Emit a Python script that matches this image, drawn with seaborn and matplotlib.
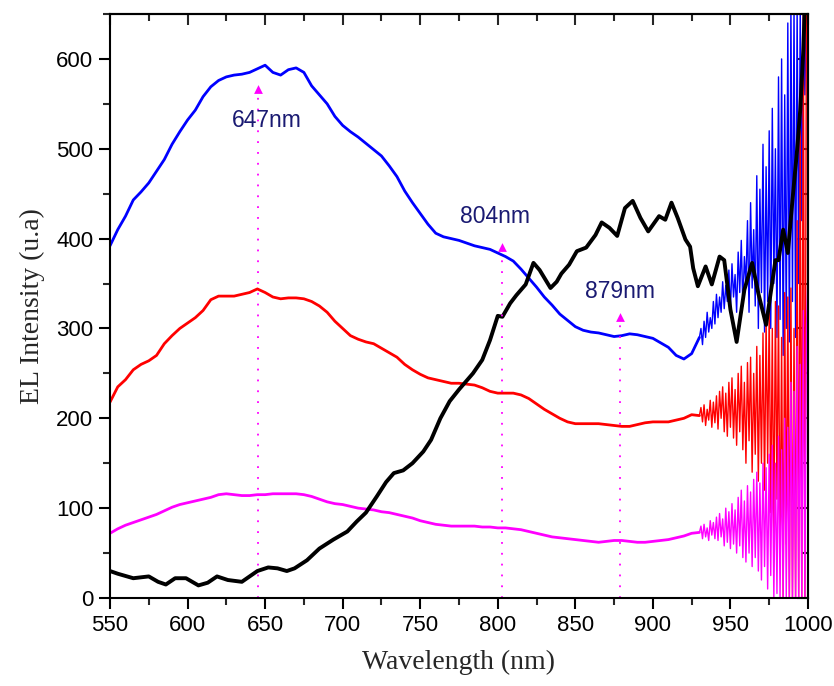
import numpy as np
import pandas as pd
import matplotlib
matplotlib.use("Agg")
import matplotlib.pyplot as plt
from matplotlib.ticker import MultipleLocator, NullFormatter
import seaborn as sns

# ---- data ----
# noisy spectra: 5 nm steps from 550 to 930, then 1 nm steps (upper/lower swings) to 1000
wl_main = list(range(550, 931, 5))
wl_tail = list(range(931, 1001))

blue_main = [392, 410, 425, 443, 452, 462, 475, 488, 505, 519,
             532, 543, 558, 569, 576, 580, 582, 583, 585, 589,
             593, 585, 582, 588, 590, 585, 570, 560, 550, 536,
             526, 519, 513, 506, 499, 492, 481, 469, 453, 440,
             428, 416, 406, 402, 400, 398, 395, 392, 390, 388,
             384, 380, 375, 366, 356, 346, 335, 326, 316, 309,
             302, 298, 296, 295, 293, 291, 292, 294, 293, 291,
             289, 284, 279, 270, 266, 272, 290]
blue_tail = [300, 282, 308, 290, 318, 296, 312, 300, 330, 305,
             338, 312, 335, 318, 352, 322, 348, 330, 365, 320,
             372, 335, 360, 318, 385, 340, 398, 325, 380, 350,
             420, 318, 440, 345, 410, 325, 470, 300, 455, 340,
             505, 296, 480, 330, 520, 300, 545, 350, 500, 290,
             580, 310, 600, 270, 560, 300, 640, 285, 660, 330,
             660, 290, 660, 350, 660, 420, 660, 560, 660, 660]

red_main = [218, 235, 243, 254, 260, 264, 270, 283, 292, 300,
            306, 312, 320, 332, 336, 336, 336, 338, 340, 344,
            340, 335, 333, 334, 334, 333, 330, 325, 318, 308,
            300, 292, 288, 285, 283, 278, 273, 268, 260, 254,
            249, 245, 243, 241, 239, 239, 238, 237, 234, 230,
            228, 228, 228, 226, 222, 216, 210, 205, 200, 196,
            194, 194, 194, 194, 193, 192, 191, 191, 193, 195,
            196, 196, 196, 198, 200, 204, 203]
red_tail = [212, 196, 215, 192, 210, 198, 220, 190, 218, 195,
            225, 188, 230, 200, 235, 185, 228, 180, 240, 190,
            245, 178, 232, 170, 250, 185, 258, 165, 240, 150,
            262, 175, 268, 140, 250, 160, 280, 130, 270, 150,
            295, 120, 310, 150, 320, 95, 300, 70, 330, 110,
            325, 40, 290, 0, 340, 60, 335, 0, 345, 0,
            300, 0, 420, 0, 520, 0, 660, 0, 660, 660]

mag_main = [72, 77, 81, 84, 87, 90, 93, 97, 101, 104,
            106, 108, 110, 112, 115, 116, 115, 114, 114, 115,
            115, 116, 116, 116, 116, 115, 113, 110, 107, 105,
            104, 102, 100, 99, 98, 96, 95, 93, 91, 89,
            86, 84, 82, 81, 80, 80, 80, 80, 79, 79,
            78, 78, 77, 76, 74, 72, 70, 68, 67, 66,
            65, 64, 63, 62, 63, 64, 64, 63, 62, 62,
            63, 64, 65, 67, 69, 72, 73]
mag_tail = [80, 66, 82, 68, 78, 64, 86, 70, 84, 66,
            90, 64, 94, 68, 88, 58, 100, 62, 96, 55,
            105, 60, 98, 50, 112, 58, 120, 45, 108, 40,
            125, 50, 118, 35, 132, 45, 140, 30, 128, 20,
            150, 35, 145, 10, 160, 25, 170, 0, 150, 5,
            180, 0, 165, 0, 200, 0, 190, 0, 240, 0,
            230, 0, 280, 0, 260, 0, 320, 0, 300, 360]

# smooth black spectrum
wl_black = [550, 555, 565, 575, 581, 586, 592, 599, 607, 613, 619, 626, 635, 645,
            652, 658, 664, 669, 677, 685, 694, 703, 709, 715, 722, 728, 733, 739,
            745, 752, 757, 763, 769, 775, 784, 790, 795, 800, 803, 808, 812, 818,
            823, 827, 834, 838, 841, 846, 851, 857, 863, 867, 872, 877, 882, 887,
            892, 897, 904, 908, 912, 916, 921, 924, 926, 929, 934, 938, 943, 946,
            950, 954, 959, 964, 968, 973, 979, 981, 984, 987, 990, 993, 995, 997,
            998, 1000]
black_val = [30, 27, 22, 24, 18, 15, 22, 22, 14, 17, 24, 20, 18, 30,
             34, 33, 30, 33, 42, 55, 65, 74, 85, 95, 113, 129, 139, 142,
             150, 163, 176, 200, 219, 232, 250, 265, 287, 314, 313, 328, 337, 349,
             373, 365, 345, 352, 361, 371, 386, 390, 404, 418, 412, 403, 434, 442,
             423, 408, 425, 421, 440, 423, 399, 391, 367, 347, 369, 349, 380, 376,
             321, 285, 343, 373, 339, 304, 376, 376, 410, 384, 443, 499, 543, 610,
             660, 700]

# peak markers
peak_wl = [645.5, 802.5, 879]
peak_val = [566, 391, 313]
peak_labels = ["647nm", "804nm", "879nm"]
label_wl = [651, 798, 879]
label_val = [532, 425, 341]

sns.set_style("ticks")
plt.rcParams["font.family"] = ["Liberation Sans", "DejaVu Sans"]

fig = plt.figure(figsize=(8.34, 6.86), dpi=100)
ax = fig.add_axes([0.1319, 0.1283, 0.8369, 0.8513])

wl_all = wl_main + wl_tail
series = [("#0000ff", blue_main, blue_tail),
          ("#ff0000", red_main, red_tail),
          ("#ff00ff", mag_main, mag_tail)]
for color, main, tail in series:
    df = pd.DataFrame({"wl": wl_all, "val": main + tail})
    n = len(wl_main)
    sns.lineplot(data=df.iloc[:n], x="wl", y="val", ax=ax, color=color,
                 lw=2.0, estimator=None, sort=False)
    sns.lineplot(data=df.iloc[n - 1:], x="wl", y="val", ax=ax, color=color,
                 lw=1.0, estimator=None, sort=False)

sns.lineplot(x=wl_black, y=black_val, ax=ax, color="black", lw=2.8,
             estimator=None, sort=False)

# peak guides
for x, y in zip(peak_wl, peak_val):
    ax.plot([x, x], [0, y], color="#ff00ff", lw=1.3, ls=(0, (1, 5)))
ax.scatter(peak_wl, peak_val, marker="^", s=40, color="#ff00ff", zorder=5,
           linewidths=0)
for x, y, t in zip(label_wl, label_val, peak_labels):
    ax.text(x, y, t, ha="center", va="center", fontsize=16.5, color="#1a1a72")

ax.set_xlim(550, 1000)
ax.set_ylim(0, 650)
ax.set_xticks(range(550, 1001, 50))
ax.set_yticks(range(0, 601, 100))
ax.xaxis.set_minor_locator(MultipleLocator(25))
ax.yaxis.set_minor_locator(MultipleLocator(50))
ax.tick_params(which="major", direction="out", length=8, width=1.5,
               labelsize=16, colors="black", pad=4)
ax.tick_params(which="minor", direction="out", length=5, width=1.5)

top = ax.secondary_xaxis("top")
top.set_xticks(range(550, 1001, 50))
top.xaxis.set_minor_locator(MultipleLocator(25))
top.xaxis.set_major_formatter(NullFormatter())
top.tick_params(which="major", direction="in", length=8, width=1.5)
top.tick_params(which="minor", direction="in", length=5, width=1.5)

right = ax.secondary_yaxis("right")
right.set_yticks(range(0, 601, 100))
right.yaxis.set_minor_locator(MultipleLocator(50))
right.yaxis.set_major_formatter(NullFormatter())
right.tick_params(which="major", direction="in", length=8, width=1.5)
right.tick_params(which="minor", direction="in", length=5, width=1.5)

for a in (ax, top, right):
    for sp in a.spines.values():
        sp.set_linewidth(1.5)
        sp.set_color("black")

ax.set_xlabel("Wavelength (nm)", fontsize=20, family=["Liberation Serif", "DejaVu Serif"],
              labelpad=10)
ax.set_ylabel("EL Intensity (u.a)", fontsize=20, family=["Liberation Serif", "DejaVu Serif"],
              labelpad=8)

fig.savefig("out.png", dpi=100)
plt.close(fig)
